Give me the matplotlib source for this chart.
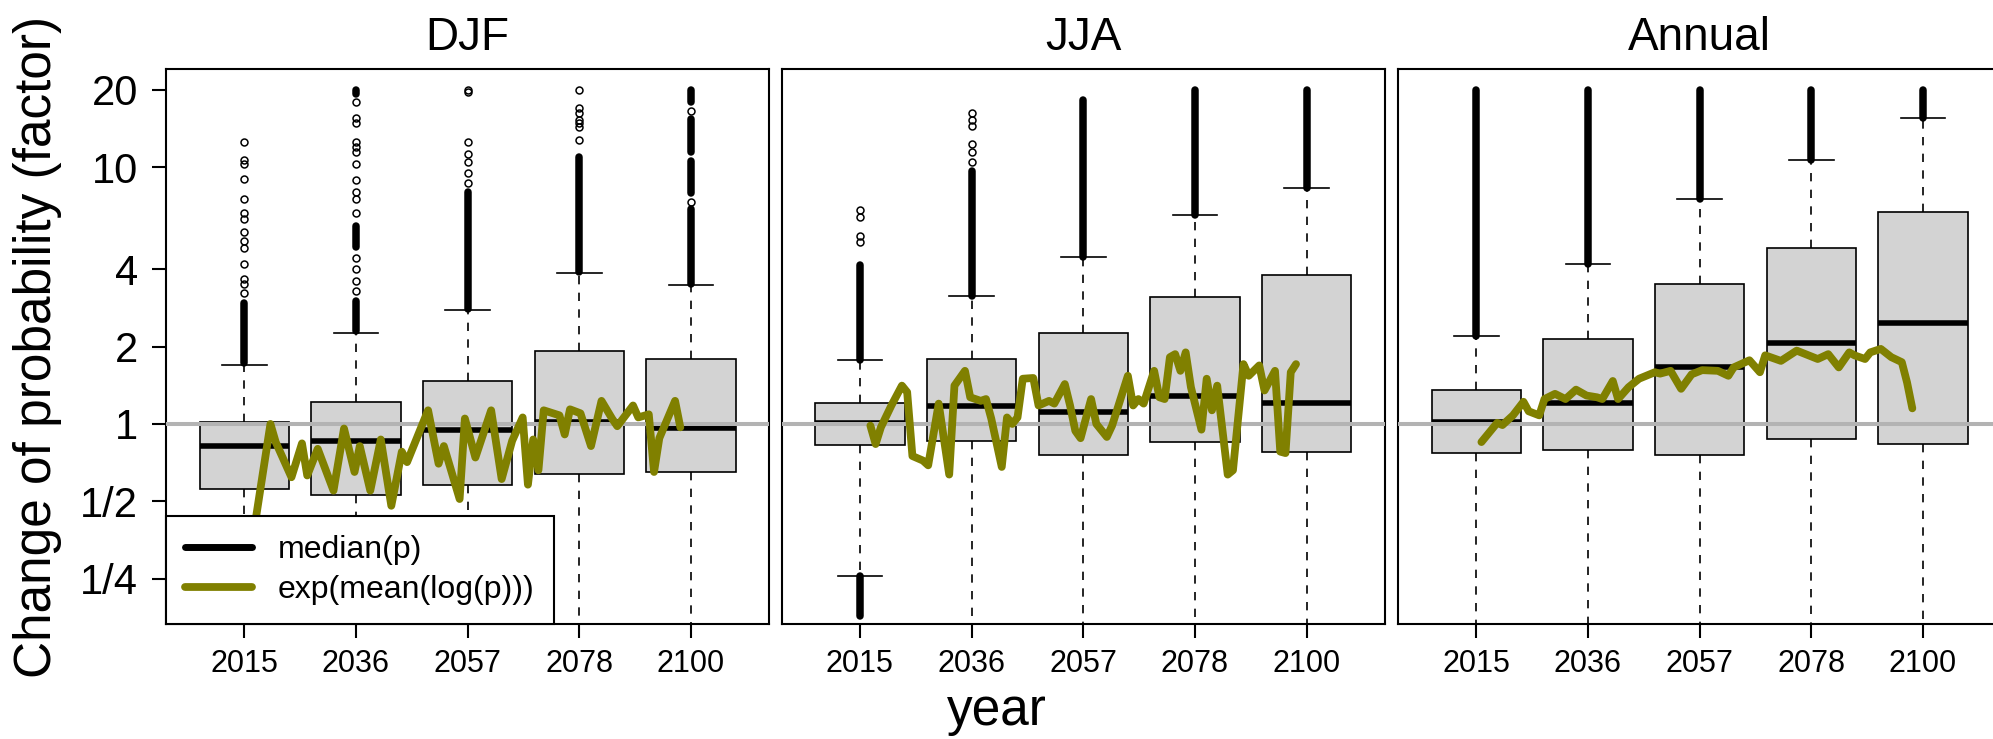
import numpy as np
import matplotlib
matplotlib.use('Agg')
import matplotlib.pyplot as plt
from matplotlib.lines import Line2D
from matplotlib.ticker import NullLocator

plt.rcParams['font.family'] = ['Liberation Sans', 'DejaVu Sans']

seasons = ['DJF', 'JJA', 'Annual']
box_years = [2015, 2036.25, 2057.5, 2078.75, 2100]
year_labels = ['2015', '2036', '2057', '2078', '2100']
ytick_vals = [0.25, 0.5, 1, 2, 4, 10, 20]
ytick_labels = ['1/4', '1/2', '1', '2', '4', '10', '20']

# ---- DJF ----
djf_q1 = [0.56, 0.53, 0.58, 0.64, 0.65]
djf_med = [0.82, 0.86, 0.95, 1.02, 0.96]
djf_q3 = [1.02, 1.22, 1.47, 1.92, 1.79]
djf_whi = [1.69, 2.26, 2.79, 3.86, 3.49]
djf_wlo = [0.1, 0.1, 0.1, 0.1, 0.1]
djf_out_runs = [[(1.72, 2.97)],
                [(2.3, 3.0), (4.9, 5.9), (19.2, 20)],
                [(2.8, 8.0)],
                [(3.9, 11.0)],
                [(3.5, 6.9), (7.9, 10.6), (11.5, 15.4), (18, 20)]]
djf_out_pts = [[3.23, 3.52, 3.67, 4.2, 4.83, 5.14, 5.6, 6.3, 6.6, 7.5, 9.0, 10.3, 10.65, 12.5],
               [3.3, 3.6, 4.0, 4.44, 6.6, 7.5, 8.0, 8.9, 10.3, 11.5, 12.0, 12.5, 14.8, 15.5, 17.9],
               [8.7, 9.5, 10.5, 11.3, 12.5, 19.6, 20],
               [12.8, 14.3, 14.8, 15.2, 16.2, 17.0, 20],
               [7.3, 16.5]]
djf_gm_years = [2017, 2020, 2021, 2024, 2026, 2027, 2029, 2032, 2034, 2036, 2037, 2039,
                2041, 2043, 2045, 2046, 2050, 2052, 2053, 2056, 2057, 2059, 2062, 2064,
                2066, 2068, 2069, 2070, 2071, 2072, 2075, 2076, 2077, 2079, 2081, 2083,
                2085, 2086, 2089, 2090, 2092, 2093, 2094, 2097, 2098]
djf_gm = [0.40, 1.00, 0.85, 0.62, 0.84, 0.63, 0.80, 0.55, 0.96, 0.65, 0.82, 0.55,
          0.87, 0.48, 0.78, 0.71, 1.13, 0.70, 0.82, 0.51, 1.05, 0.74, 1.13, 0.61,
          0.86, 1.06, 0.58, 0.87, 0.66, 1.13, 1.08, 0.91, 1.14, 1.10, 0.82, 1.23,
          1.05, 0.98, 1.18, 1.06, 1.09, 0.65, 0.88, 1.23, 0.97]

# ---- JJA ----
jja_q1 = [0.83, 0.86, 0.755, 0.85, 0.78]
jja_med = [1.01, 1.17, 1.11, 1.29, 1.21]
jja_q3 = [1.21, 1.79, 2.26, 3.13, 3.8]
jja_whi = [1.77, 3.15, 4.48, 6.5, 8.3]
jja_wlo = [0.255, 0.1, 0.1, 0.1, 0.1]
jja_out_runs = [[(1.77, 4.17), (0.178, 0.255)],
                [(3.15, 9.7)],
                [(4.48, 18.3)],
                [(6.5, 20)],
                [(8.3, 20)]]
jja_out_pts = [[5.1, 5.4, 6.4, 6.8],
               [10.5, 11.5, 12.3, 14.5, 15.3, 16.2],
               [], [], []]
jja_gm_years = [2017, 2018, 2019, 2021, 2023, 2024, 2025, 2027, 2028, 2030, 2032, 2033,
                2035, 2036, 2038, 2039, 2040, 2042, 2043, 2044, 2045, 2046, 2048, 2049,
                2051, 2052, 2054, 2055, 2056, 2057, 2059, 2060, 2062, 2063, 2066, 2067,
                2068, 2069, 2071, 2072, 2073, 2074, 2075, 2076, 2077, 2078, 2080, 2081,
                2082, 2083, 2085, 2086, 2088, 2089, 2091, 2092, 2094, 2095, 2096, 2097, 2098]
jja_gm = [0.985, 0.835, 0.97, 1.18, 1.41, 1.33, 0.75, 0.72, 0.69, 1.20, 0.635, 1.41,
          1.61, 1.27, 1.23, 1.25, 1.05, 0.68, 1.06, 1.00, 1.06, 1.50, 1.51, 1.18,
          1.23, 1.20, 1.43, 1.18, 0.94, 0.88, 1.25, 1.00, 0.89, 0.985, 1.54, 1.18,
          1.25, 1.20, 1.61, 1.27, 1.25, 1.82, 1.87, 1.61, 1.90, 1.39, 0.95, 1.50,
          1.13, 1.41, 0.635, 0.66, 1.71, 1.54, 1.69, 1.35, 1.61, 0.78, 0.77, 1.59, 1.71]

# ---- Annual ----
ann_q1 = [0.774, 0.79, 0.76, 0.87, 0.835]
ann_med = [1.02, 1.21, 1.66, 2.06, 2.47]
ann_q3 = [1.35, 2.14, 3.5, 4.83, 6.7]
ann_whi = [2.2, 4.2, 7.5, 10.66, 15.6]
ann_wlo = [0.1, 0.1, 0.1, 0.1, 0.1]
ann_out_runs = [[(2.2, 20)], [(4.2, 20)], [(7.5, 20)], [(10.66, 20)], [(15.6, 20)]]
ann_out_pts = [[], [], [], [], []]
ann_gm_years = [2016, 2019, 2020, 2022, 2024, 2025, 2027, 2028, 2030, 2032, 2034, 2036,
                2038, 2039, 2041, 2042, 2044, 2046, 2049, 2050, 2052, 2054, 2056, 2058,
                2061, 2063, 2064, 2067, 2069, 2070, 2073, 2076, 2080, 2082, 2084, 2086,
                2087, 2089, 2090, 2092, 2094, 2096, 2097, 2098]
ann_gm = [0.85, 1.01, 0.99, 1.08, 1.22, 1.12, 1.08, 1.25, 1.31, 1.25, 1.36, 1.29,
          1.27, 1.25, 1.47, 1.25, 1.39, 1.50, 1.59, 1.57, 1.61, 1.37, 1.56, 1.62,
          1.61, 1.54, 1.66, 1.77, 1.59, 1.85, 1.76, 1.93, 1.79, 1.87, 1.66, 1.90,
          1.85, 1.79, 1.90, 1.96, 1.82, 1.74, 1.45, 1.15]

panels = [
    (djf_q1, djf_med, djf_q3, djf_wlo, djf_whi, djf_out_runs, djf_out_pts, djf_gm_years, djf_gm),
    (jja_q1, jja_med, jja_q3, jja_wlo, jja_whi, jja_out_runs, jja_out_pts, jja_gm_years, jja_gm),
    (ann_q1, ann_med, ann_q3, ann_wlo, ann_whi, ann_out_runs, ann_out_pts, ann_gm_years, ann_gm),
]

olive = '#808000'
W, H = 1993, 739
fig = plt.figure(figsize=(W / 100, H / 100), dpi=100)

lefts = [166, 781.7, 1398]
pw = 603
top, bottom = 69.3, 624

for i, (season, p) in enumerate(zip(seasons, panels)):
    q1, med, q3, wlo, whi, runs, pts, gyears, gm = p
    ax = fig.add_axes([lefts[i] / W, 1 - bottom / H, pw / W, (bottom - top) / H])
    ax.set_yscale('log')

    stats = [dict(med=m, q1=a, q3=b, whislo=lo, whishi=hi, fliers=[])
             for a, m, b, lo, hi in zip(q1, med, q3, wlo, whi)]
    ax.bxp(stats, positions=box_years, widths=17, capwidths=8.5,
           patch_artist=True, showfliers=False, manage_ticks=False,
           boxprops=dict(facecolor='#d3d3d3', edgecolor='black', linewidth=1.2),
           whiskerprops=dict(color='black', linewidth=1.2, linestyle=(0, (5, 5))),
           capprops=dict(color='black', linewidth=1.2),
           medianprops=dict(color='black', linewidth=4.0, solid_capstyle='butt'),
           zorder=2)

    # outliers: dense runs drawn as solid columns, loose ones as open circles
    for x, rr, pp in zip(box_years, runs, pts):
        for lo, hi in rr:
            ax.plot([x, x], [lo, hi], color='black', lw=5.4,
                    solid_capstyle='round', zorder=2.5)
        if pp:
            ax.plot([x] * len(pp), pp, 'o', mfc='none', mec='black',
                    ms=5.0, mew=1.1, zorder=2.5)

    ax.axhline(1, color='#b3b3b3', lw=2.9, zorder=3)
    ax.plot(gyears, gm, color=olive, lw=5.6, solid_joinstyle='round',
            solid_capstyle='round', zorder=4)

    ax.set_xlim(2000.125, 2114.875)
    ax.set_ylim(0.1663, 24.05)
    ax.set_xticks(box_years)
    ax.set_xticklabels(year_labels)
    ax.tick_params(axis='x', length=10, width=1.5, labelsize=22, pad=8)
    ax.yaxis.set_minor_locator(NullLocator())
    if i == 0:
        ax.set_yticks(ytick_vals)
        ax.set_yticklabels(ytick_labels)
        ax.tick_params(axis='y', length=10, width=1.5, labelsize=30, pad=10)
    else:
        ax.yaxis.set_major_locator(NullLocator())
    for s in ax.spines.values():
        s.set_linewidth(1.5)
    ax.set_title(season, fontsize=33, pad=14)

    if i == 0:
        handles = [Line2D([], [], color='black', lw=5.0, solid_capstyle='round'),
                   Line2D([], [], color=olive, lw=5.6, solid_capstyle='round')]
        leg = ax.legend(handles, ['median(p)', 'exp(mean(log(p)))'], loc='lower left',
                        bbox_to_anchor=(0, 0), borderaxespad=0, fontsize=23,
                        fancybox=False, framealpha=1, edgecolor='black',
                        handlelength=2.1, handletextpad=0.8, borderpad=0.6,
                        labelspacing=0.3)
        leg.get_frame().set_linewidth(1.5)
        leg.set_zorder(5)

fig.text(38 / W, 1 - 346.5 / H, 'Change of probability (factor)', rotation=90,
         ha='center', va='center', fontsize=37)
fig.text(0.5, 1 - 725 / H, 'year', ha='center', va='baseline', fontsize=37)

fig.savefig('out.png', dpi=100)
